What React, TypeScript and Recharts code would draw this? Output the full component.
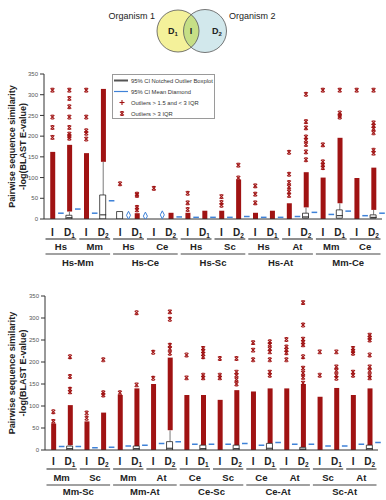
import React from 'react';
import { ComposedChart, Bar, Scatter, XAxis, YAxis, Label, Legend } from 'recharts';

const FONT = '"Liberation Sans", Arial, sans-serif';
const RED = '#a01313';
const BLUE = '#3f82d8';
const INK = '#222';

type Range = [number, number] | null;

const subsetLabels = ['I', 'D1', 'I', 'D2'];
const yTicks = [0, 50, 100, 150, 200, 250, 300, 350];

// ---- top panel ----
const topPairs = ['Hs-Mm', 'Hs-Ce', 'Hs-Sc', 'Hs-At', 'Mm-Ce'];
const topSpecies = ['Hs', 'Mm', 'Hs', 'Ce', 'Hs', 'Sc', 'Hs', 'At', 'Mm', 'Ce'];
const topDense: Range[] = [
  [0, 162], [18, 179], [0, 159], [138, 314],
  null, [0, 14], null, [0, 15],
  [0, 15], [0, 20], [0, 20], [0, 95],
  [0, 15], [0, 20], [0, 38], [28, 113],
  [0, 100], [38, 196], [0, 99], [22, 124],
];
const topBox: Range[] = [
  null, [0, 9], null, [0, 58],
  [0, 18], null, null, null,
  null, null, null, null,
  null, null, null, [2, 14],
  null, [2, 22], null, [2, 10],
];
const topWhisker: Range[] = [
  null, [9, 18], null, [58, 138],
  null, null, null, null,
  null, null, null, null,
  null, null, null, [14, 28],
  null, [22, 38], null, [10, 22],
];
const topMedian = [null, 3, null, 10, null, null, null, null, null, null, null, null, null, null, null, 5, null, 8, null, 4];
const topMean = [14, 24, 14, 44, 9, 7, 10, 5, 4, 4, 4, 6, 4, 4, 6, 16, 11, 19, 8, 14];
const topDiamonds = [4, 5, 6];
const topOutliers = [
  [311, 246, 221, 197],
  [311, 291, 271, 246, 221, 205, 200, 195],
  [311, 246, 213, 207, 193],
  [],
  [85],
  [60, 57, 28, 22],
  [74],
  [],
  [62, 39, 23],
  [],
  [54, 40, 33],
  [130, 99],
  [80, 60, 39],
  [],
  [161, 108, 88, 78, 66, 57],
  [301, 235, 220, 198, 190, 180, 162, 143],
  [311, 179, 138, 130, 124],
  [311, 256, 250, 246],
  [311],
  [311, 232, 225, 218, 208, 166, 159],
];

// ---- bottom panel ----
const bottomPairs = ['Mm-Sc', 'Mm-At', 'Ce-Sc', 'Ce-At', 'Sc-At'];
const bottomSpecies = ['Mm', 'Sc', 'Mm', 'At', 'Ce', 'Sc', 'Ce', 'At', 'Sc', 'At'];
const bottomDense: Range[] = [
  [0, 60], [11, 102], [0, 65], [0, 85],
  [0, 125], [9, 140], [0, 150], [45, 210],
  [0, 125], [11, 125], [0, 114], [11, 136],
  [0, 133], [15, 140], [0, 140], [6, 150],
  [0, 121], [0, 141], [0, 125], [11, 140],
];
const bottomBox: Range[] = [
  null, [0, 9], null, null,
  null, [0, 9], null, [0, 19],
  null, [0, 11], null, [0, 11],
  null, [0, 15], null, [0, 6],
  null, null, null, [0, 11],
];
const bottomWhisker: Range[] = [
  null, [9, 11], null, null,
  null, null, null, [19, 45],
  null, null, null, null,
  null, null, null, null,
  null, null, null, null,
];
const bottomMedian = [null, 3, null, null, null, 3, null, 4, null, 3, null, 3, null, 4, null, 2, null, null, null, 3];
const bottomMean = [8, 8, 5, 6, 9, 11, 15, 19, 13, 13, 13, 15, 11, 17, 13, 13, 9, 9, 13, 17];
const bottomDiamonds: number[] = [];
const bottomOutliers = [
  [87, 65],
  [212, 167, 138, 132],
  [84, 72],
  [205, 130, 125],
  [130],
  [312, 148],
  [222, 163],
  [314, 297, 238, 230, 220],
  [216, 164],
  [231, 225, 218, 212, 170, 164],
  [208, 170, 164],
  [208, 177, 170, 160, 150],
  [244, 227, 205],
  [246, 240, 230, 223, 205, 177, 170],
  [251, 234, 228, 221, 205],
  [335, 284, 252, 245, 239, 212, 186, 175, 165, 152],
  [223, 170],
  [223, 189, 180, 170, 163],
  [231, 225, 220, 177, 170],
  [261, 255, 250, 216, 189, 180, 170, 164],
];

const legendItems = [
  { label: '95% CI Notched Outlier Boxplot', kind: 'box' },
  { label: '95% CI Mean Diamond', kind: 'mean' },
  { label: 'Outliers > 1.5 and < 3 IQR', kind: 'plus' },
  { label: 'Outliers > 3 IQR', kind: 'cross' },
];

const OutlierMark = ({ cx, cy }: any) => {
  const s = 1.9;
  return (
    <g stroke={RED} strokeWidth={1.1}>
      <line x1={cx - s} y1={cy - s} x2={cx + s} y2={cy + s} />
      <line x1={cx - s} y1={cy + s} x2={cx + s} y2={cy - s} />
      <line x1={cx - 1.2} y1={cy - s} x2={cx + 1.2} y2={cy - s} />
      <line x1={cx - 1.2} y1={cy + s} x2={cx + 1.2} y2={cy + s} />
    </g>
  );
};

const MeanMark = ({ cx, cy, payload }: any) => {
  if (payload.diamond) {
    return (
      <polygon
        points={`${cx},${cy - 4} ${cx + 2},${cy} ${cx},${cy + 4} ${cx - 2},${cy}`}
        fill="none" stroke={BLUE} strokeWidth={1}
      />
    );
  }
  return <line x1={cx - 2.8} x2={cx + 2.8} y1={cy} y2={cy} stroke={BLUE} strokeWidth={1.5} />;
};

const MedianMark = ({ cx, cy }: any) => (
  <line x1={cx - 3} x2={cx + 3} y1={cy} y2={cy} stroke={INK} strokeWidth={1} />
);

const labelStyle = { fontFamily: FONT, fontWeight: 'bold' as const, fill: INK };

// one tick per category: subset label, plus the species and pair brackets on the first category of each group
const MultiTick = ({ x, y, payload, band, species, pairs, dys }: any) => {
  const i = Math.round(payload.value);
  const lab = subsetLabels[i % 4];
  const left = x - band / 2 + 1.5;
  return (
    <g>
      <text x={x} y={y + dys[0]} textAnchor="middle" fontSize={10} {...labelStyle}>
        {lab[0]}
        {lab.length > 1 && <tspan fontSize={6.5} dy={2}>{lab[1]}</tspan>}
      </text>
      {i % 2 === 0 && (
        <g>
          <line x1={left} x2={left + 2 * band - 3} y1={y + dys[1]} y2={y + dys[1]} stroke="#444" strokeWidth={1.2} />
          <text x={x + band / 2} y={y + dys[2]} textAnchor="middle" fontSize={9.5} {...labelStyle}>
            {species[i / 2]}
          </text>
        </g>
      )}
      {i % 4 === 0 && (
        <g>
          <line x1={left} x2={left + 4 * band - 3} y1={y + dys[3]} y2={y + dys[3]} stroke="#444" strokeWidth={1.2} />
          <text x={x + 1.5 * band} y={y + dys[4]} textAnchor="middle" fontSize={9.5} {...labelStyle}>
            {pairs[i / 4]}
          </text>
        </g>
      )}
    </g>
  );
};

const YTitle = ({ viewBox }: any) => {
  const cy = viewBox.y + viewBox.height / 2;
  return (
    <g fontFamily={FONT} fontSize={9} fontWeight="bold" fill={INK}>
      <text transform={`translate(12,${cy}) rotate(-90)`} textAnchor="middle" dominantBaseline="central">
        Pairwise sequence similarity
      </text>
      <text transform={`translate(23,${cy}) rotate(-90)`} textAnchor="middle" dominantBaseline="central">
        -log(BLAST E-value)
      </text>
    </g>
  );
};

const LegendMarker = ({ kind }: { kind: string }) => {
  if (kind === 'box') return <line x1={1} x2={15} y1={5.5} y2={5.5} stroke="#555" strokeWidth={2} />;
  if (kind === 'mean') return <line x1={1} x2={15} y1={5.5} y2={5.5} stroke={BLUE} strokeWidth={1.2} />;
  if (kind === 'plus')
    return (
      <g stroke={RED} strokeWidth={1.1}>
        <line x1={6.5} x2={11.5} y1={5.5} y2={5.5} />
        <line x1={9} x2={9} y1={3} y2={8} />
      </g>
    );
  return <OutlierMark cx={9} cy={5.5} />;
};

const LegendBox = () => (
  <div
    style={{
      width: 103, height: 45, boxSizing: 'border-box', border: '1px solid #9a9a9a',
      background: '#fff', overflow: 'hidden', fontFamily: FONT, fontSize: 5.8, color: '#333',
    }}
  >
    {legendItems.map((it) => (
      <div key={it.label} style={{ display: 'flex', alignItems: 'center', height: 11, whiteSpace: 'nowrap' }}>
        <svg width={18} height={11} style={{ flex: 'none' }}>
          <LegendMarker kind={it.kind} />
        </svg>
        <span>{it.label}</span>
      </div>
    ))}
  </div>
);

type PanelProps = {
  pairs: string[];
  species: string[];
  dense: Range[];
  box: Range[];
  whisker: Range[];
  median: (number | null)[];
  mean: number[];
  diamonds: number[];
  outliers: number[][];
  top: number;
  height: number;
  marginTop: number;
  yWidth: number;
  right: number;
  dys: number[];
  showLegend?: boolean;
};

function Panel(p: PanelProps) {
  const rows = p.dense.map((d, i) => ({ x: i, dense: d, box: p.box[i], whisker: p.whisker[i] }));
  const outlierPts = p.outliers.flatMap((vals, i) => vals.map((v) => ({ x: i, v })));
  const meanPts = p.mean.map((v, i) => ({ x: i + 0.5, v, diamond: p.diamonds.includes(i) }));
  const medianPts = p.median.flatMap((v, i) => (v === null ? [] : [{ x: i, v }]));
  const band = (386 - p.yWidth - p.right) / 20;
  const dom: [number, number] = [-0.5, 19.5];
  const catTicks = p.dense.map((_, i) => i);

  return (
    <div style={{ position: 'absolute', left: 0, top: p.top }}>
      <ComposedChart width={386} height={p.height} data={rows} margin={{ top: p.marginTop, right: p.right, bottom: 0, left: 0 }}>
        <XAxis
          xAxisId="cat" type="number" dataKey="x" domain={dom} ticks={catTicks} interval={0}
          height={49} tickSize={0} tickMargin={0} tickLine={false}
          axisLine={{ stroke: '#333' }}
          tick={(t: any) => <MultiTick {...t} band={band} species={p.species} pairs={p.pairs} dys={p.dys} />}
        />
        {/* hidden axes only keep the box and whisker bars out of the red column's bar group */}
        <XAxis xAxisId="box" type="number" dataKey="x" domain={dom} height={0} hide />
        <XAxis xAxisId="whisk" type="number" dataKey="x" domain={dom} height={0} hide />
        <YAxis
          type="number" domain={[0, 350]} ticks={yTicks} width={p.yWidth} allowDataOverflow
          tickSize={4} tickMargin={2}
          tick={{ fontSize: 6, fill: '#555', fontFamily: FONT }}
          axisLine={{ stroke: '#333' }} tickLine={{ stroke: '#333' }}
        >
          <Label content={(lp: any) => <YTitle {...lp} />} />
        </YAxis>
        {p.showLegend && (
          <Legend
            layout="vertical" align="center" verticalAlign="middle"
            wrapperStyle={{ left: 112, top: p.marginTop, width: 103, height: 45 }}
            content={() => <LegendBox />}
          />
        )}
        <Bar xAxisId="cat" dataKey="dense" fill={RED} barSize={5} isAnimationActive={false} />
        <Bar xAxisId="whisk" dataKey="whisker" fill="#7a7a7a" barSize={1} isAnimationActive={false} />
        <Bar xAxisId="box" dataKey="box" fill="#fff" stroke={INK} strokeWidth={0.8} barSize={6} isAnimationActive={false} />
        <Scatter xAxisId="cat" data={outlierPts} dataKey="v" shape={(s: any) => <OutlierMark {...s} />} isAnimationActive={false} />
        <Scatter xAxisId="cat" data={medianPts} dataKey="v" shape={(s: any) => <MedianMark {...s} />} isAnimationActive={false} />
        <Scatter xAxisId="cat" data={meanPts} dataKey="v" shape={(s: any) => <MeanMark {...s} />} isAnimationActive={false} />
      </ComposedChart>
    </div>
  );
}

const Venn = () => (
  <svg width={386} height={60} style={{ position: 'absolute', left: 0, top: 0 }}>
    <defs>
      <clipPath id="leftCircle">
        <circle cx={178} cy={31} r={21} />
      </clipPath>
    </defs>
    <circle cx={178} cy={31} r={21} fill="#f4f19a" />
    <circle cx={205} cy={31} r={21.5} fill="#d2e8ec" />
    <circle cx={205} cy={31} r={21.5} fill="#c6df86" clipPath="url(#leftCircle)" />
    <circle cx={178} cy={31} r={21} fill="none" stroke="#555" strokeWidth={0.8} />
    <circle cx={205} cy={31} r={21.5} fill="none" stroke="#555" strokeWidth={0.8} />
    <g fontFamily={FONT} fontSize={9} fill={INK}>
      <text x={155} y={19} textAnchor="end">Organism 1</text>
      <text x={229} y={19}>Organism 2</text>
    </g>
    <g fontFamily={FONT} fontSize={9} fontWeight="bold" fill={INK}>
      <text x={168} y={34}>D<tspan fontSize={6} dy={2}>1</tspan></text>
      <text x={191} y={34} textAnchor="middle">I</text>
      <text x={212} y={34}>D<tspan fontSize={6} dy={2}>2</tspan></text>
    </g>
  </svg>
);

export default function App() {
  return (
    <div style={{ position: 'absolute', left: 0, top: 0, width: 386, height: 500, background: '#fff', overflow: 'hidden' }}>
      <Venn />
      <Panel
        pairs={topPairs} species={topSpecies} dense={topDense} box={topBox} whisker={topWhisker}
        median={topMedian} mean={topMean} diamonds={topDiamonds} outliers={topOutliers}
        top={65} height={203} marginTop={9} yWidth={44} right={4}
        dys={[16.5, 20, 30.5, 35, 46.5]} showLegend
      />
      <Panel
        pairs={bottomPairs} species={bottomSpecies} dense={bottomDense} box={bottomBox} whisker={bottomWhisker}
        median={bottomMedian} mean={bottomMean} diamonds={bottomDiamonds} outliers={bottomOutliers}
        top={285} height={214} marginTop={11} yWidth={45} right={8}
        dys={[15, 19, 30.5, 35, 45]}
      />
    </div>
  );
}
